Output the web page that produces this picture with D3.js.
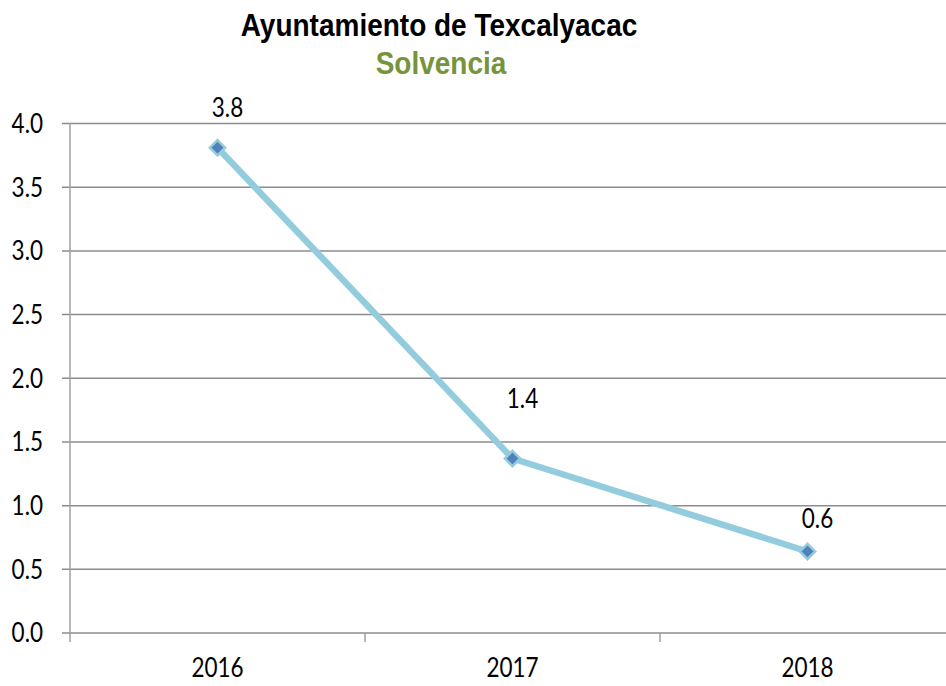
<!DOCTYPE html>
<html>
<head>
<meta charset="utf-8">
<script src="https://cdn.jsdelivr.net/npm/d3@7"></script>
<style>
  body { margin: 0; background: #fff; }
  svg { display: block; }
</style>
</head>
<body>
<svg id="chart" width="946" height="686"></svg>
<script>
// données
const years = ["2016", "2017", "2018"];
const solvencia = [3.81, 1.37, 0.64];
const labels = ["3.8", "1.4", "0.6"];
const yTicks = [0, 0.5, 1, 1.5, 2, 2.5, 3, 3.5, 4];

const W = 946, H = 686;
const margin = { left: 70, right: -9, top: 123.5, bottom: 53 };
const plotW = W - margin.left - margin.right;
const plotH = H - margin.top - margin.bottom;

// le texte de l'original est un peu étiré verticalement
const sy = 1.17;
const numFont = "Lato, 'Open Sans', sans-serif";

const svg = d3.select("#chart");

// titre et sous-titre
svg.append("text")
    .attr("transform", `translate(439,36) scale(1,1.15)`)
    .attr("text-anchor", "middle")
    .style("font-family", "'Liberation Sans', Arial, sans-serif")
    .style("font-weight", "bold")
    .style("font-size", "28px")
    .attr("fill", "#000")
    .text("Ayuntamiento de Texcalyacac");

svg.append("text")
    .attr("transform", `translate(441,74) scale(1,1.15)`)
    .attr("text-anchor", "middle")
    .style("font-family", "'Liberation Sans', Arial, sans-serif")
    .style("font-weight", "bold")
    .style("font-size", "28px")
    .attr("fill", "#77933C")
    .text("Solvencia");

const g = svg.append("g")
    .attr("transform", `translate(${margin.left},${margin.top})`);

const x = d3.scaleBand().domain(years).range([0, plotW]);
const y = d3.scaleLinear().domain([0, 4]).range([plotH, 0]);

// grille horizontale
g.append("g")
    .selectAll("line")
    .data(yTicks)
    .enter().append("line")
    .attr("x1", -8).attr("x2", plotW)
    .attr("y1", d => y(d)).attr("y2", d => y(d))
    .attr("stroke", "#8c8c8c")
    .attr("stroke-width", 1.5);

// axe Y
const yAxis = g.append("g")
    .call(d3.axisLeft(y).tickValues(yTicks).tickFormat(d3.format(".1f")).tickSize(0).tickPadding(27));
yAxis.select(".domain").remove();
yAxis.selectAll("text")
    .attr("dy", "0.34em")
    .attr("transform", `scale(1,${sy})`)
    .style("font-family", numFont)
    .style("font-size", "22.5px")
    .attr("fill", "#000");

g.append("line")
    .attr("x1", 0).attr("x2", 0)
    .attr("y1", 0).attr("y2", plotH + 9)
    .attr("stroke", "#a0a0a0")
    .attr("stroke-width", 1.5);

// axe X
const xAxis = g.append("g")
    .attr("transform", `translate(0,${plotH})`)
    .call(d3.axisBottom(x).tickSize(0).tickPadding(22));
xAxis.select(".domain").remove();
xAxis.selectAll("text")
    .attr("transform", `scale(1,${sy})`)
    .style("font-family", numFont)
    .style("font-size", "22.5px")
    .attr("fill", "#000");

g.append("g")
    .selectAll("line")
    .data(years.slice(1))
    .enter().append("line")
    .attr("x1", d => x(d)).attr("x2", d => x(d))
    .attr("y1", plotH).attr("y2", plotH + 9)
    .attr("stroke", "#a0a0a0")
    .attr("stroke-width", 1.5);

// ligne
const cx = (d, i) => x(years[i]) + x.bandwidth() / 2;
const line = d3.line()
    .x(cx)
    .y(d => y(d));

g.append("path")
    .datum(solvencia)
    .attr("d", line)
    .attr("fill", "none")
    .attr("stroke", "#93CDDD")
    .attr("stroke-width", 6.5)
    .attr("stroke-linejoin", "round");

// marqueurs en losange
g.selectAll(".pt")
    .data(solvencia)
    .enter().append("path")
    .attr("class", "pt")
    .attr("d", d3.symbol().type(d3.symbolDiamond2).size(150))
    .attr("transform", (d, i) => `translate(${cx(d, i)},${y(d)})`)
    .attr("fill", "#4F81BD")
    .attr("stroke", "#93CDDD")
    .attr("stroke-width", 2.5);

// étiquettes de valeurs (décalages à la Excel)
const labelDy = [-31, -50, -23];
g.selectAll(".lbl")
    .data(solvencia)
    .enter().append("text")
    .attr("class", "lbl")
    .attr("transform", (d, i) => `translate(${cx(d, i) + 10},${y(d) + labelDy[i]}) scale(1,${sy})`)
    .attr("text-anchor", "middle")
    .style("font-family", numFont)
    .style("font-size", "22.5px")
    .attr("fill", "#000")
    .text((d, i) => labels[i]);
</script>
</body>
</html>
